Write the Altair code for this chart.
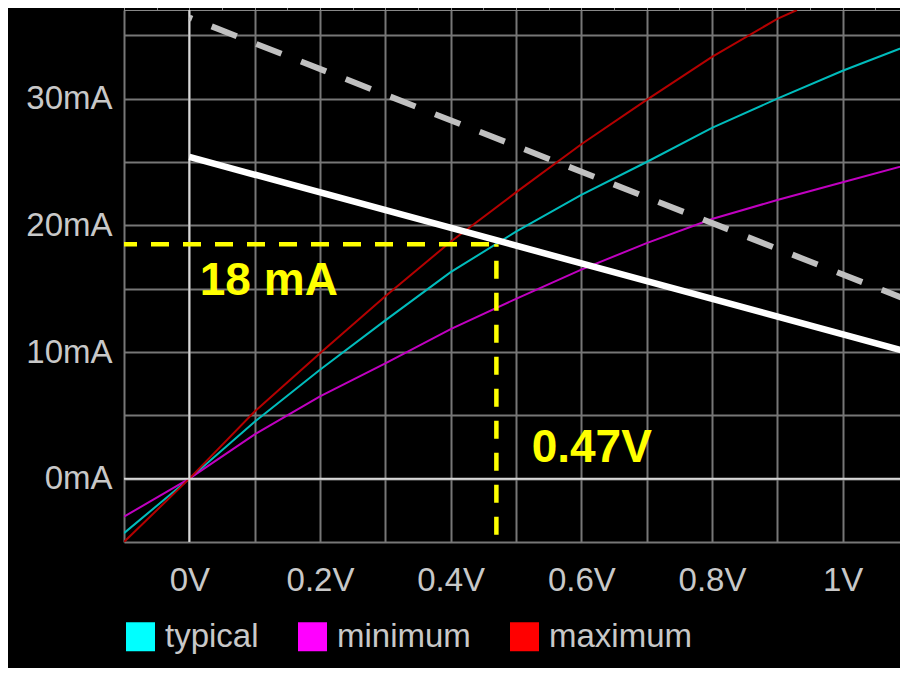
import altair as alt
import pandas as pd

# ---- data ----
volts = [-0.1, 0.0, 0.1, 0.2, 0.3, 0.4, 0.5, 0.6, 0.7, 0.8, 0.9, 1.0, 1.1]
typical = [-4.3, 0.0, 4.5, 8.6, 12.5, 16.3, 19.5, 22.4, 25.0, 27.7, 30.0, 32.2, 34.2]
minimum = [-3.0, 0.0, 3.5, 6.5, 9.1, 11.8, 14.2, 16.5, 18.6, 20.5, 22.0, 23.4, 24.8]
max_volts = [-0.1, 0.0, 0.1, 0.2, 0.3, 0.4, 0.5, 0.6, 0.7, 0.8, 0.9, 0.93]
maximum = [-5.0, 0.0, 5.3, 9.9, 14.4, 18.7, 22.6, 26.4, 29.9, 33.3, 36.3, 37.0]

series_names = ["typical", "minimum", "maximum"]
line_colors = ["#00bcbc", "#c000c0", "#b40000"]
legend_colors = ["#00ffff", "#ff00ff", "#ff0000"]

grid_ma = [-5, 0, 5, 10, 15, 20, 25, 30, 35]

load_v = [0.0, 1.1]
load_i = [25.4, 10.0]
dash_v = [0.0, 1.1]
dash_i = [36.4, 14.1]

op_v = [0.47]
op_i = [18.5]

ann_text = ["18 mA", "0.47V"]
ann_v = [0.016, 0.524]
ann_i = [14.5, 1.32]

# ---- tables ----
rows = []
for v, i in zip(volts, typical):
    rows.append({"V": v, "I": i, "series": "typical"})
for v, i in zip(volts, minimum):
    rows.append({"V": v, "I": i, "series": "minimum"})
for v, i in zip(max_volts, maximum):
    rows.append({"V": v, "I": i, "series": "maximum"})
curves = pd.DataFrame(rows)

legend_df = pd.DataFrame({"series": series_names})
lines_df = pd.DataFrame({
    "v1": [dash_v[0], load_v[0]], "i1": [dash_i[0], load_i[0]],
    "v2": [dash_v[1], load_v[1]], "i2": [dash_i[1], load_i[1]],
    "kind": ["dashed", "load"],
})
op_df = pd.DataFrame({"V": op_v, "I": op_i, "Vmin": [volts[0]], "Imin": [grid_ma[0]]})
ann_df = pd.DataFrame({"text": ann_text, "V": ann_v, "I": ann_i})
zero_df = pd.DataFrame({"z": [0]})

FONT = "Liberation Sans"
xscale = alt.Scale(domain=[-0.1, 1.0878], nice=False, zero=False)
yscale = alt.Scale(domain=[-5, 37], nice=False, zero=False)

xaxis = alt.Axis(
    values=volts, grid=True, gridColor="#777777", gridWidth=2, ticks=False,
    domain=False, title=None, labelFont=FONT, labelFontSize=33,
    labelColor="#c8c8c8", labelPadding=22, labelFlush=False, labelOverlap=False,
    labelExpr="(round(datum.value*10) % 2 == 0 && datum.value >= 0 && datum.value <= 1.05) ? format(datum.value, '~g') + 'V' : ''",
)
yaxis = alt.Axis(
    values=grid_ma, grid=True, gridColor="#777777", gridWidth=2, ticks=False,
    domain=False, title=None, labelFont=FONT, labelFontSize=33,
    labelColor="#c8c8c8", labelPadding=12, labelFlush=False, labelOverlap=False,
    labelExpr="datum.value % 10 == 0 ? datum.value + 'mA' : ''",
)

curve_layer = alt.Chart(curves).mark_line(strokeWidth=2, clip=True).encode(
    x=alt.X("V:Q", scale=xscale, axis=xaxis),
    y=alt.Y("I:Q", scale=yscale, axis=yaxis),
    color=alt.Color("series:N", scale=alt.Scale(domain=series_names, range=line_colors), legend=None),
    detail="series:N",
)

zero_v = alt.Chart(zero_df).mark_rule(color="#d8d8d8", strokeWidth=2).encode(x=alt.X("z:Q", scale=xscale))
zero_h = alt.Chart(zero_df).mark_rule(color="#d8d8d8", strokeWidth=2).encode(y=alt.Y("z:Q", scale=yscale))

legend_layer = alt.Chart(legend_df).transform_filter("false").mark_square(opacity=1).encode(
    x=alt.X("series:N"),
    fill=alt.Fill(
        "series:N",
        scale=alt.Scale(domain=series_names, range=legend_colors),
        legend=alt.Legend(
            orient="none", legendX=0, legendY=610, direction="horizontal", title=None,
            symbolType="square", symbolSize=841, symbolStrokeWidth=0, symbolOpacity=1,
            labelFont=FONT, labelFontSize=33, labelColor="#c8c8c8", labelOffset=8,
            columnPadding=37, padding=0,
        ),
    ),
)

dashed_layer = alt.Chart(lines_df).transform_filter("datum.kind == 'dashed'").mark_rule(
    color="#c0c0c0", strokeWidth=6, strokeDash=[27, 21], strokeDashOffset=24, clip=True
).encode(
    x=alt.X("v1:Q", scale=xscale), y=alt.Y("i1:Q", scale=yscale),
    x2="v2:Q", y2="i2:Q",
)
load_layer = alt.Chart(lines_df).transform_filter("datum.kind == 'load'").mark_rule(
    color="#ffffff", strokeWidth=6.5, clip=True
).encode(
    x=alt.X("v1:Q", scale=xscale), y=alt.Y("i1:Q", scale=yscale),
    x2="v2:Q", y2="i2:Q",
)

op_h = alt.Chart(op_df).mark_rule(
    color="#ffff00", strokeWidth=4.5, strokeDash=[18, 14], strokeDashOffset=5
).encode(
    x=alt.X("Vmin:Q", scale=xscale), x2="V:Q", y=alt.Y("I:Q", scale=yscale)
)
op_v_rule = alt.Chart(op_df).mark_rule(
    color="#ffff00", strokeWidth=4.5, strokeDash=[18, 14], strokeDashOffset=15.7
).encode(
    x=alt.X("V:Q", scale=xscale), y=alt.Y("I:Q", scale=yscale), y2="Imin:Q"
)

ann_layer = alt.Chart(ann_df).mark_text(
    color="#ffff00", font=FONT, fontSize=46, fontWeight="bold", align="left", baseline="alphabetic"
).encode(
    x=alt.X("V:Q", scale=xscale), y=alt.Y("I:Q", scale=yscale), text="text:N"
)

chart = alt.layer(
    curve_layer, zero_v, zero_h, legend_layer, dashed_layer, load_layer,
    op_h, op_v_rule, ann_layer,
).resolve_scale(color="independent").properties(
    width=776, height=532,
    autosize=alt.AutoSizeParams(type="none"),
    padding={"left": 116, "top": 2, "right": 0, "bottom": 126},
    background="#000000",
).configure_view(stroke=None)

chart.save("out.html", embed_options={"renderer": "svg", "actions": False})
